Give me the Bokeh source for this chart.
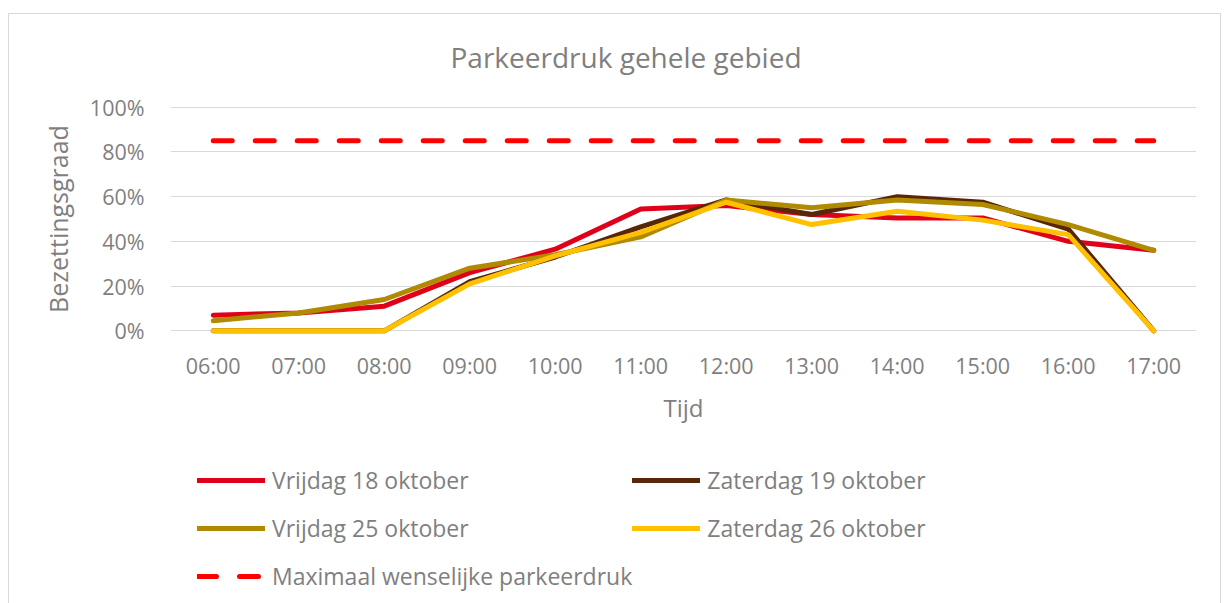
from bokeh.plotting import figure
from bokeh.layouts import column
from bokeh.models import (Range1d, FixedTicker, NumeralTickFormatter, Legend, LegendItem,
                          InlineStyleSheet)
from bokeh.embed import file_html
from bokeh.resources import INLINE

times = ["06:00", "07:00", "08:00", "09:00", "10:00", "11:00",
         "12:00", "13:00", "14:00", "15:00", "16:00", "17:00"]
vrijdag_18 = [0.07, 0.08, 0.11, 0.26, 0.365, 0.545, 0.56, 0.52, 0.505, 0.505, 0.40, 0.36]
zaterdag_19 = [0.0, 0.0, 0.0, 0.22, 0.33, 0.465, 0.585, 0.52, 0.60, 0.575, 0.455, 0.0]
vrijdag_25 = [0.045, 0.08, 0.14, 0.28, 0.34, 0.42, 0.585, 0.55, 0.585, 0.565, 0.475, 0.36]
zaterdag_26 = [0.0, 0.0, 0.0, 0.21, 0.335, 0.44, 0.575, 0.475, 0.535, 0.495, 0.43, 0.0]
max_wenselijk = [0.85] * len(times)

series_names = ["Vrijdag 18 oktober", "Zaterdag 19 oktober",
                "Vrijdag 25 oktober", "Zaterdag 26 oktober"]
series_values = [vrijdag_18, zaterdag_19, vrijdag_25, zaterdag_26]
series_colors = ["#E1001A", "#582608", "#B08A00", "#FFC000"]
max_name = "Maximaal wenselijke parkeerdruk"
max_color = "#FF0000"

FONT = "Open Sans"
GRAY = "#7f7f7f"

p = figure(width=1224, height=440, x_range=times, y_range=Range1d(-0.03, 1.03),
           output_backend="svg", toolbar_location=None,
           min_border_left=170, min_border_right=28, min_border_top=100,
           min_border_bottom=103)

p.title.text = "Parkeerdruk gehele gebied"
p.title.align = "left"
p.title.text_font = FONT
p.title.text_font_size = "28px"
p.title.text_font_style = "normal"
p.title.text_color = GRAY
p.title.offset = 280
p.title.standoff = 49

p.outline_line_color = None
p.xgrid.grid_line_color = None
p.ygrid.grid_line_color = "#d9d9d9"
p.ygrid.grid_line_width = 1
p.yaxis.ticker = FixedTicker(ticks=[0, 0.2, 0.4, 0.6, 0.8, 1.0])
p.yaxis.formatter = NumeralTickFormatter(format="0%")

for ax in (p.xaxis[0], p.yaxis[0]):
    ax.axis_line_color = None
    ax.major_tick_line_color = None
    ax.minor_tick_line_color = None
    ax.major_tick_in = 0
    ax.major_tick_out = 0
    ax.major_label_text_font = FONT
    ax.major_label_text_font_size = "21.5px"
    ax.major_label_text_color = GRAY
    ax.axis_label_text_font = FONT
    ax.axis_label_text_font_size = "24px"
    ax.axis_label_text_font_style = "normal"
    ax.axis_label_text_color = GRAY

p.xaxis.axis_label = "Tijd"
p.xaxis.major_label_standoff = 13
p.xaxis.axis_label_standoff = 8
p.yaxis.axis_label = "Bezettingsgraad"
p.yaxis.axis_label_text_font_size = "25px"
p.yaxis.major_label_standoff = 26
p.yaxis.axis_label_standoff = 12

for name, vals, col in zip(series_names, series_values, series_colors):
    p.line(times, vals, line_color=col, line_width=5,
           line_cap="round", line_join="round")
p.line(times, max_wenselijk, line_color=max_color, line_width=5,
       line_dash="19 23", line_cap="round")

# Legend panel (separate figure so it can sit below the axis label)
lg = figure(width=1224, height=160, x_range=Range1d(0, 1), y_range=Range1d(0, 1),
            output_backend="svg", toolbar_location=None,
            min_border_left=0, min_border_right=0, min_border_top=0, min_border_bottom=0,
            x_axis_type=None, y_axis_type=None)
lg.grid.visible = False
lg.outline_line_color = None

# legend-only line renderers placed outside the visible range
off = [5, 6]
items = []
for name, col in zip(series_names, series_colors):
    r = lg.line(off, off, line_color=col, line_width=5, line_cap="round")
    items.append(LegendItem(label=name, renderers=[r]))
rm = lg.line(off, off, line_color=max_color, line_width=5, line_dash="19 23", line_cap="round")
items.append(LegendItem(label=max_name, renderers=[rm]))

legend = Legend(items=items, orientation="horizontal", ncols=2,
                location=(27, 0), padding=0, margin=0, spacing=0,
                glyph_width=68, glyph_height=48, label_height=48,
                label_width=360, label_standoff=7,
                label_text_font=FONT, label_text_font_size="23px",
                label_text_color=GRAY, border_line_color=None,
                background_fill_alpha=0)
lg.add_layout(legend, "center")

layout = column(p, lg, spacing=0)
layout.stylesheets = [InlineStyleSheet(css="""
:host::after {
  content: "";
  position: absolute;
  left: 8px;
  top: 13px;
  width: 1213px;
  height: 600px;
  border-left: 1px solid #d9d9d9;
  border-top: 1px solid #d9d9d9;
  border-right: 1px solid #d9d9d9;
  pointer-events: none;
  box-sizing: border-box;
}
""")]
open("out.html", "w").write(file_html(layout, INLINE))
